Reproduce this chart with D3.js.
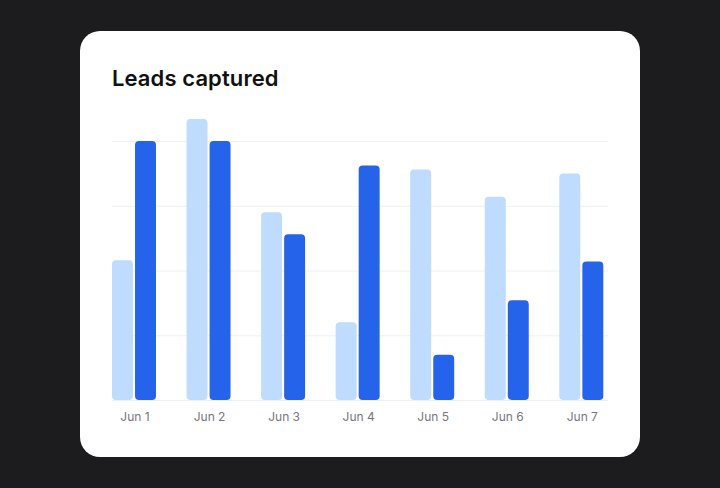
<!DOCTYPE html>
<html>
<head>
<meta charset="utf-8">
<script src="https://cdn.jsdelivr.net/npm/d3@7"></script>
<style>
  html, body { margin: 0; padding: 0; background: #1c1c1e; }
  svg { display: block; }
</style>
</head>
<body>
<div id="grafico"></div>
<script>
// Datos del grafico
const dias = ["Jun 1", "Jun 2", "Jun 3", "Jun 4", "Jun 5", "Jun 6", "Jun 7"];
const serieClara = [108, 217, 145, 60, 178, 157, 175];
const serieOscura = [200, 200, 128, 181, 35, 77, 107];
const series = ["clara", "oscura"];

const WIDTH = 720;
const HEIGHT = 488;

var svg = d3.select("#grafico")
    .append("svg")
    .attr("width", WIDTH)
    .attr("height", HEIGHT);

// tarjeta blanca
svg.append("rect")
    .attr("x", 80)
    .attr("y", 31)
    .attr("width", 560)
    .attr("height", 426)
    .attr("rx", 20)
    .attr("fill", "#ffffff");

svg.append("text")
    .attr("x", 112)
    .attr("y", 85.5)
    .attr("font-family", "Inter, 'Noto Sans', sans-serif")
    .attr("font-size", 22)
    .attr("font-weight", 600)
    .attr("letter-spacing", "0.1px")
    .attr("fill", "#111111")
    .text("Leads captured");

// escalas
var x0 = d3.scaleBand()
    .domain(dias)
    .range([112, 603.3])
    .paddingInner(0.41)
    .paddingOuter(0);

var x1 = d3.scaleBand()
    .domain(series)
    .range([0, x0.bandwidth()])
    .paddingInner(0.09);

var y = d3.scaleLinear()
    .domain([0, d3.max(serieClara.concat(serieOscura))])
    .range([400, 119]);

var color = d3.scaleOrdinal()
    .domain(series)
    .range(["#bfdbfe", "#2563eb"]);

// lineas de la rejilla
svg.append("g")
    .selectAll("line")
    .data(y.ticks(5))
    .enter()
    .append("line")
    .attr("x1", 112)
    .attr("x2", 608)
    .attr("y1", d => y(d) + 0.5)
    .attr("y2", d => y(d) + 0.5)
    .attr("stroke", "#eef0f4")
    .attr("stroke-width", 1);

// barras
var grupos = svg.append("g")
    .selectAll("g")
    .data(dias)
    .enter()
    .append("g")
    .attr("transform", d => "translate(" + x0(d) + ",0)");

grupos.selectAll("rect")
    .data((d, i) => [
        { serie: "clara", valor: serieClara[i] },
        { serie: "oscura", valor: serieOscura[i] }
    ])
    .enter()
    .append("rect")
    .attr("x", d => x1(d.serie))
    .attr("y", d => y(d.valor))
    .attr("width", x1.bandwidth())
    .attr("height", d => y(0) - y(d.valor))
    .attr("rx", 4)
    .attr("fill", d => color(d.serie));

// eje x
var ejeX = svg.append("g")
    .attr("transform", "translate(1,400)")
    .call(d3.axisBottom(x0).tickSize(0).tickPadding(12));

ejeX.select(".domain").remove();
ejeX.selectAll("text")
    .attr("font-family", "Inter, 'Noto Sans', sans-serif")
    .attr("font-size", 12)
    .attr("fill", "#767680");
</script>
</body>
</html>
